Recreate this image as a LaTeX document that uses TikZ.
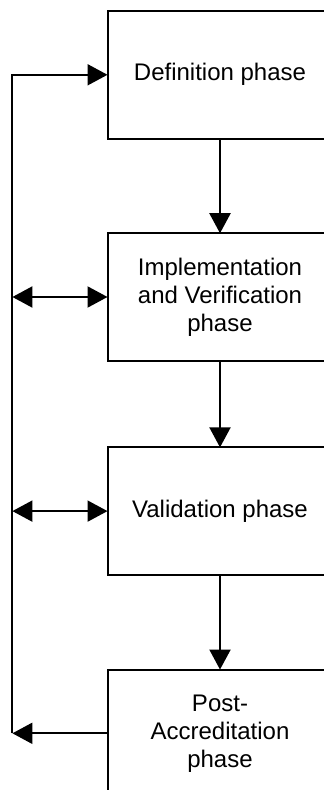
\documentclass[tikz,border=0pt]{standalone}
\usepackage{fontspec}
\setmainfont{Liberation Sans}
\usetikzlibrary{arrows.meta,positioning}

\begin{document}
\begin{tikzpicture}[>={Triangle[length=10pt,width=10.5pt]}, line width=1pt,
    phase/.style={draw, line width=1pt, outer sep=0pt, minimum width=112.5pt,
      minimum height=63.75pt, align=center,
      font=\fontsize{12}{14}\selectfont}]

  \useasboundingbox (0,0) rectangle (162pt,-395pt);
  \clip (0,0) rectangle (162pt,-395pt);

  \coordinate (rail) at (6.2pt, 0);

  \node[phase] (defn) at (110pt, -37.4pt) {Definition phase};
  \node[phase, below=47.35pt of defn] (impl) {Implementation\\and Verification\\phase};
  \node[phase, below=43.3pt of impl] (valid) {Validation phase};
  \node[phase, below=47.35pt of valid] (post) {Post-\\Accreditation\\phase};

  % main flow
  \draw[->] (defn) -- (impl);
  \draw[->] (impl) -- (valid);
  \draw[->] (valid) -- (post);

  % feedback rail
  \draw[->] (post.west) -- (post.west -| rail);
  \draw[->] (post.west -| rail) |- (defn.west);
  \draw[<->] (impl.west -| rail) -- (impl.west);
  \draw[<->] (valid.west -| rail) -- (valid.west);

\end{tikzpicture}
\end{document}
